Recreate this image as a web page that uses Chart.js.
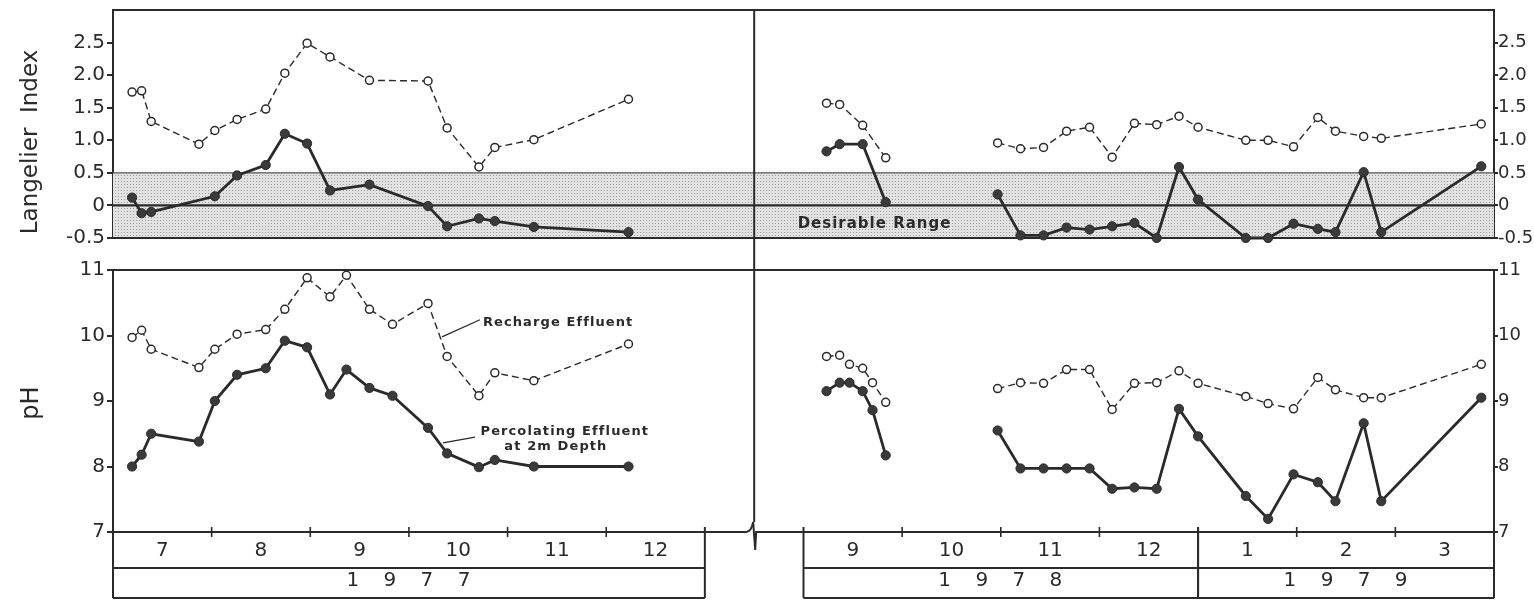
<!DOCTYPE html>
<html>
<head>
<meta charset="utf-8">
<script src="https://cdn.jsdelivr.net/npm/chart.js@4.4.0/dist/chart.umd.min.js"></script>
<style>
  html, body { margin: 0; padding: 0; background: #fff; }
  #wrap { position: relative; width: 1534px; height: 600px; }
  #wrap canvas { position: absolute; left: 0; }
  #liChart { top: 0; }
  #phChart { top: 250px; }
</style>
</head>
<body>
<div id="wrap">
  <canvas id="liChart" width="1534" height="250"></canvas>
  <canvas id="phChart" width="1534" height="350"></canvas>
</div>
<script>
// sampling dates, three runs
const dates1977 = ['1977-07-07', '1977-07-10', '1977-07-13', '1977-07-28', '1977-08-02', '1977-08-09', '1977-08-18',
  '1977-08-24', '1977-08-31', '1977-09-07', '1977-09-12', '1977-09-19', '1977-09-26', '1977-10-07', '1977-10-13',
  '1977-10-23', '1977-10-28', '1977-11-09', '1977-12-08'];
const datesSep78 = ['1978-09-08', '1978-09-12', '1978-09-15', '1978-09-19', '1978-09-22', '1978-09-26'];
const datesWinter = ['1978-10-31', '1978-11-07', '1978-11-14', '1978-11-21', '1978-11-28', '1978-12-05', '1978-12-12',
  '1978-12-19', '1978-12-26', '1979-01-01', '1979-01-16', '1979-01-23', '1979-01-31', '1979-02-07', '1979-02-12',
  '1979-02-20', '1979-02-25', '1979-03-28'];

// Langelier index (null = not determined that day)
const liRecharge1977 = [1.74, 1.76, 1.29, 0.94, 1.15, 1.32, 1.48, 2.03, 2.49, 2.28, null, 1.92, null, 1.91, 1.19, 0.59, 0.89, 1.01, 1.63];
const liPercolating1977 = [0.12, -0.12, -0.10, null, 0.14, 0.46, 0.62, 1.10, 0.95, 0.23, null, 0.32, null, -0.01, -0.32, -0.20, -0.24, -0.33, -0.41];
const liRechargeSep78 = [1.57, 1.55, null, 1.23, null, 0.73];
const liPercolatingSep78 = [0.83, 0.94, null, 0.94, null, 0.05];
const liRechargeWinter = [0.96, 0.87, 0.89, 1.14, 1.20, 0.74, 1.26, 1.24, 1.37, 1.20, 1.00, 1.00, 0.90, 1.35, 1.14, 1.06, 1.03, 1.25];
const liPercolatingWinter = [0.17, -0.46, -0.46, -0.34, -0.37, -0.32, -0.27, -0.50, 0.59, 0.09, -0.50, -0.50, -0.28, -0.36, -0.41, 0.51, -0.41, 0.60];

// pH
const phRecharge1977 = [9.97, 10.08, 9.79, 9.51, 9.79, 10.02, 10.09, 10.40, 10.88, 10.59, 10.92, 10.40, 10.17, 10.49, 9.68, 9.08, 9.43, 9.31, 9.87];
const phPercolating1977 = [8.00, 8.18, 8.50, 8.38, 9.00, 9.40, 9.50, 9.92, 9.82, 9.10, 9.48, 9.20, 9.08, 8.59, 8.20, 7.99, 8.10, 8.00, 8.00];
const phRechargeSep78 = [9.68, 9.70, 9.56, 9.50, 9.28, 8.98];
const phPercolatingSep78 = [9.15, 9.28, 9.28, 9.15, 8.86, 8.17];
const phRechargeWinter = [9.19, 9.28, 9.27, 9.48, 9.48, 8.87, 9.27, 9.28, 9.46, 9.27, 9.07, 8.96, 8.88, 9.36, 9.17, 9.05, 9.05, 9.56];
const phPercolatingWinter = [8.55, 7.97, 7.97, 7.97, 7.97, 7.66, 7.68, 7.66, 8.88, 8.46, 7.55, 7.20, 7.88, 7.76, 7.47, 8.66, 7.47, 9.05];

// month and year labels under the pH panel
const axisMonths = ['1977-07', '1977-08', '1977-09', '1977-10', '1977-11', '1977-12',
  '1978-09', '1978-10', '1978-11', '1978-12', '1979-01', '1979-02', '1979-03'];
const yearLabels = ['1977', '1978', '1979'];

const ink = '#2a2a2a';
const FONT = "'DejaVu Sans', sans-serif";

// months since 1 July 1977; Jan-Aug 1978 is cut out and left as one blank month
function monthPos(d) {
  const [y, m, day] = d.split('-').map(Number);
  const dim = new Date(y, m, 0).getDate();
  let u = (y - 1977) * 12 + (m - 7) + ((day || 1) - 1) / dim;
  if (u >= 14) u -= 7;
  return u;
}

function points(dates, values) {
  return dates.map((d, i) => ({ x: monthPos(d), y: values[i] }));
}

function seriesSets(label, segments, recharge) {
  return segments.map(([dates, values]) => ({
    label: label,
    data: points(dates, values),
    spanGaps: true,
    borderColor: ink,
    borderWidth: recharge ? 1.4 : 2.8,
    borderDash: recharge ? [7, 4] : [],
    pointRadius: recharge ? 4 : 4.6,
    pointBorderWidth: recharge ? 1.5 : 1,
    pointBackgroundColor: recharge ? '#fff' : '#3a3a3a',
    pointBorderColor: ink,
    tension: 0,
    clip: false
  }));
}

function yAxis(position, min, max, step, fmt, tickAtTop) {
  const left = position === 'left';
  return {
    position: position,
    min: min,
    max: max,
    afterFit(scale) {
      scale.width = left ? 113 : 40;
      scale.paddingTop = 0;
      scale.paddingBottom = 0;
    },
    ticks: {
      stepSize: step, autoSkip: false, color: ink, padding: left ? 2 : 0,
      font: { family: FONT, size: left ? 20 : 18 }, callback: fmt
    },
    grid: {
      drawOnChartArea: false,
      tickLength: left ? 6 : 4,
      lineWidth: 2,
      color: c => (c.tick && c.tick.value === max && !tickAtTop) ? 'rgba(0,0,0,0)' : ink
    },
    border: { display: true, color: ink, width: 2 }
  };
}

function stipple(ctx) {
  const c = document.createElement('canvas');
  c.width = 3; c.height = 3;
  const g = c.getContext('2d');
  g.fillStyle = '#e2e2e2';
  g.fillRect(0, 0, 3, 3);
  g.fillStyle = '#9c9c9c';
  g.fillRect(1, 1, 1, 1);
  return ctx.createPattern(c, 'repeat');
}

function hline(ctx, x1, x2, y, w) {
  ctx.lineWidth = w;
  ctx.beginPath(); ctx.moveTo(x1, y); ctx.lineTo(x2, y); ctx.stroke();
}
function vline(ctx, x, y1, y2, w) {
  ctx.lineWidth = w;
  ctx.beginPath(); ctx.moveTo(x, y1); ctx.lineTo(x, y2); ctx.stroke();
}

function axisTitle(ctx, text, cx, cy, size) {
  ctx.save();
  ctx.translate(cx, cy);
  ctx.rotate(-Math.PI / 2);
  ctx.fillStyle = ink;
  ctx.font = size + 'px ' + FONT;
  ctx.textAlign = 'center';
  ctx.textBaseline = 'middle';
  ctx.fillText(text, 0, 0);
  ctx.restore();
}

const xAxis = { type: 'linear', min: 0, max: 14, display: false };
const BREAK = 6.5;

const liFrame = {
  id: 'liFrame',
  beforeDatasetsDraw(chart) {
    const { ctx, chartArea: a, scales: { x, y } } = chart;
    ctx.save();
    const top = y.getPixelForValue(0.5), bot = y.getPixelForValue(-0.5);
    ctx.fillStyle = stipple(ctx);
    ctx.fillRect(a.left, top, a.width, bot - top);
    ctx.strokeStyle = '#555';
    hline(ctx, a.left, a.right, top, 1.3);
    ctx.strokeStyle = ink;
    hline(ctx, a.left, a.right, y.getPixelForValue(0), 2.2);
    hline(ctx, a.left, a.right, a.top, 2);
    hline(ctx, a.left, a.right, a.bottom, 2);
    vline(ctx, x.getPixelForValue(BREAK), a.top, chart.height, 2);

    ctx.fillStyle = ink;
    ctx.font = 'bold 15px ' + FONT;
    ctx.letterSpacing = '1px';
    ctx.textAlign = 'center';
    ctx.textBaseline = 'middle';
    ctx.fillText('Desirable Range', x.getPixelForValue(7.72), y.getPixelForValue(-0.28));
    ctx.restore();
  },
  afterDraw(chart) {
    axisTitle(chart.ctx, 'Langelier  Index', 31, 142, 23);
  }
};

const phFrame = {
  id: 'phFrame',
  beforeDatasetsDraw(chart) {
    const { ctx, chartArea: a, scales: { x } } = chart;
    const bx = x.getPixelForValue(BREAK);
    const row1 = a.bottom + 36, row2 = a.bottom + 66;
    ctx.save();
    ctx.strokeStyle = ink;
    hline(ctx, a.left, a.right, a.top, 2);

    // time axis with the break mark
    ctx.lineWidth = 2;
    ctx.beginPath();
    ctx.moveTo(a.left, a.bottom);
    ctx.lineTo(bx - 8, a.bottom);
    ctx.quadraticCurveTo(bx - 3, a.bottom, bx - 1, a.bottom - 10);
    ctx.stroke();
    vline(ctx, bx, 0, a.bottom - 10, 2);
    ctx.beginPath();
    ctx.moveTo(bx - 1, a.bottom - 10);
    ctx.lineTo(bx + 1, a.bottom + 18);
    ctx.lineTo(bx + 2, a.bottom);
    ctx.lineTo(a.right, a.bottom);
    ctx.stroke();

    // year blocks with their month cells
    const blocks = yearLabels.map(yr => {
      const ms = axisMonths.filter(m => m.startsWith(yr)).map(m => monthPos(m + '-01'));
      return { yr: yr, from: Math.min(...ms), to: Math.max(...ms) + 1 };
    });
    blocks.forEach(b => {
      const x1 = x.getPixelForValue(b.from), x2 = x.getPixelForValue(b.to);
      hline(ctx, x1, x2, row1, 1.8);
      hline(ctx, x1, x2, row2, 1.8);
      vline(ctx, x1, a.bottom - 5, row2, 2);
      vline(ctx, x2, a.bottom - 5, row2, 2);
    });
    ctx.fillStyle = ink;
    ctx.textAlign = 'center';
    ctx.textBaseline = 'middle';
    ctx.font = '20px ' + FONT;
    axisMonths.forEach(m => {
      const p = monthPos(m + '-01');
      const edge = blocks.some(b => b.from === p);
      if (!edge) vline(ctx, x.getPixelForValue(p), a.bottom - 5, a.bottom + 5, 1.6);
      ctx.fillText(String(Number(m.slice(5))), x.getPixelForValue(p + 0.5), a.bottom + 19);
    });
    ctx.letterSpacing = '9px';
    blocks.forEach(b => {
      ctx.fillText(b.yr.split('').join(' '), x.getPixelForValue((b.from + b.to) / 2) + 4, a.bottom + 49);
    });
    ctx.restore();
  },
  afterDatasetsDraw(chart) {
    const { ctx, scales: { x, y } } = chart;
    const px = (u, v) => [x.getPixelForValue(u), y.getPixelForValue(v)];
    ctx.save();
    ctx.strokeStyle = ink;
    ctx.lineWidth = 1.3;
    ctx.beginPath();
    ctx.moveTo(...px(3.335, 9.98)); ctx.lineTo(...px(3.72, 10.24));
    ctx.moveTo(...px(3.345, 8.36)); ctx.lineTo(...px(3.67, 8.45));
    ctx.stroke();
    ctx.fillStyle = ink;
    ctx.font = 'bold 13px ' + FONT;
    ctx.letterSpacing = '1.1px';
    ctx.textBaseline = 'middle';
    ctx.textAlign = 'left';
    ctx.fillText('Recharge Effluent', ...px(3.75, 10.19));
    ctx.textAlign = 'center';
    ctx.fillText('Percolating Effluent', ...px(4.58, 8.54));
    ctx.fillText('at 2m Depth', ...px(4.49, 8.31));
    ctx.restore();
  },
  afterDraw(chart) {
    axisTitle(chart.ctx, 'pH', 32, 153, 24);
  }
};

const common = {
  responsive: false,
  animation: false,
  devicePixelRatio: 1,
  plugins: { legend: { display: false }, tooltip: { enabled: false } }
};

const liFmt = v => v === 3 ? '' : (v === 0 ? '0' : v.toFixed(1));
const phFmt = v => String(v);

new Chart(document.getElementById('liChart'), {
  type: 'line',
  data: {
    datasets: [
      ...seriesSets('Recharge Effluent', [[dates1977, liRecharge1977], [datesSep78, liRechargeSep78], [datesWinter, liRechargeWinter]], true),
      ...seriesSets('Percolating Effluent at 2m Depth', [[dates1977, liPercolating1977], [datesSep78, liPercolatingSep78], [datesWinter, liPercolatingWinter]], false)
    ]
  },
  options: {
    ...common,
    layout: { padding: { top: 10, bottom: 12, left: 0, right: 0 } },
    scales: {
      x: xAxis,
      y: yAxis('left', -0.5, 3, 0.5, liFmt, false),
      y2: yAxis('right', -0.5, 3, 0.5, liFmt, false)
    }
  },
  plugins: [liFrame]
});

new Chart(document.getElementById('phChart'), {
  type: 'line',
  data: {
    datasets: [
      ...seriesSets('Recharge Effluent', [[dates1977, phRecharge1977], [datesSep78, phRechargeSep78], [datesWinter, phRechargeWinter]], true),
      ...seriesSets('Percolating Effluent at 2m Depth', [[dates1977, phPercolating1977], [datesSep78, phPercolatingSep78], [datesWinter, phPercolatingWinter]], false)
    ]
  },
  options: {
    ...common,
    layout: { padding: { top: 20, bottom: 68, left: 0, right: 0 } },
    scales: {
      x: xAxis,
      y: yAxis('left', 7, 11, 1, phFmt, true),
      y2: yAxis('right', 7, 11, 1, phFmt, true)
    }
  },
  plugins: [phFrame]
});
</script>
</body>
</html>
